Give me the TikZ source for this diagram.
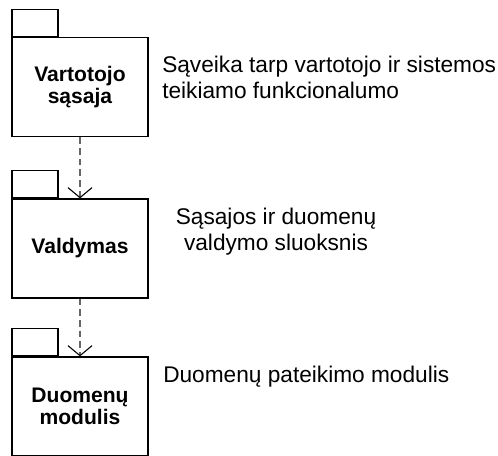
\documentclass[tikz,border=0pt]{standalone}
\usepackage{fontspec}
\setmainfont{Liberation Sans}
\usetikzlibrary{arrows.meta}
\tikzset{
      pkgbox/.style={
        draw=black,
        line width=1pt,
        minimum width=102pt,
        minimum height=74.25pt,
        inner sep=0pt,
        align=center,
        font=\fontsize{15.8}{17}\selectfont\bfseries
      },
      pkgtab/.style={
        draw=black,
        line width=1pt,
        minimum width=34.5pt,
        minimum height=20.25pt,
        inner sep=0pt,
        anchor=south west
      },
      pkgnote/.style={
        inner sep=0pt,
        font=\fontsize{17}{19.5}\selectfont
      },
      dep/.style={
        draw=black!60,
        line width=0.9pt,
        dash pattern=on 5pt off 3pt,
        -{Straight Barb[length=7.5pt,width=18pt,color=black,line width=0.8pt]}
      }
    }

\begin{document}
\begin{tikzpicture}[x=0.75pt,y=-0.75pt]
    \useasboundingbox (0,0) rectangle (498,455);
    \clip (0,0) rectangle (498,455);
    % packages
    \node[pkgbox] (p1) at (80,87) {Vartotojo\\sąsaja};
    \node[pkgtab] (t1) at (p1.north west) {};
    \node[pkgbox] (p2) at (80,248.5) {Valdymas};
    \node[pkgtab] (t2) at (p2.north west) {};
    \node[pkgbox] (p3) at (80,406.5) {Duomenų\\modulis};
    \node[pkgtab] (t3) at (p3.north west) {};
    % notes
    \node[pkgnote, anchor=base west, align=left] (n1) at (162,98) {Sąveika tarp vartotojo ir sistemos\\teikiamo funkcionalumo};
    \node[pkgnote, anchor=base, align=center] (n2) at (276,250) {Sąsajos ir duomenų\\valdymo sluoksnis};
    \node[pkgnote, anchor=base west] (n3) at (163,382) {Duomenų pateikimo modulis};
    % dependencies
    \draw[dep] (p1.south) -- (p2.north);
    \draw[dep] (p2.south) -- (p3.north);
    \end{tikzpicture}
\end{document}
